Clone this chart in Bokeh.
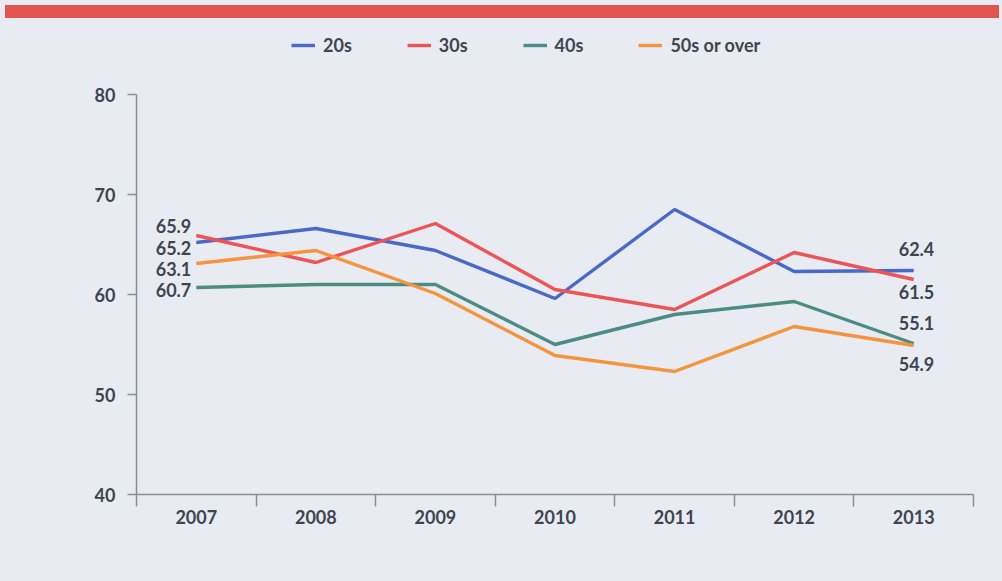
from bokeh.plotting import figure
from bokeh.models import ColumnDataSource, FixedTicker, Legend, LegendItem, Range1d, Div
from bokeh.layouts import column
from bokeh.core.properties import value
from bokeh.embed import file_html
from bokeh.resources import INLINE

# ---- data ----
years = [2007, 2008, 2009, 2010, 2011, 2012, 2013]
s20 = [65.2, 66.6, 64.4, 59.6, 68.5, 62.3, 62.4]
s30 = [65.9, 63.2, 67.1, 60.5, 58.5, 64.2, 61.5]
s40 = [60.7, 61.0, 61.0, 55.0, 58.0, 59.3, 55.1]
s50 = [63.1, 64.4, 60.1, 53.9, 52.3, 56.8, 54.9]
series_names = ["20s", "30s", "40s", "50s or over"]
y_ticks = [40, 50, 60, 70, 80]

# ---- style ----
colors = ["#4a68c6", "#ec5557", "#4c8c85", "#f5943e"]
bg = "#e8ecf2"
txt = "#3e4450"
axis_col = "#8a8d93"
FONT = "Lato"
# label offsets (screen px) for end labels, per series
left_yoff = [5, -10, 2, 5]
right_yoff = [-22, 12, -21, 18]

series = [s20, s30, s40, s50]

# y range extends above 80 to leave room for the legend inside the frame;
# the axis itself is bounded to 40..80
p = figure(width=994, height=563, output_backend="svg", toolbar_location=None,
           x_range=Range1d(2006.5, 2013.5), y_range=Range1d(40, 86.3),
           min_border_left=136, min_border_right=21, min_border_top=8,
           min_border_bottom=92)
p.background_fill_color = bg
p.border_fill_color = bg
p.outline_line_color = None
p.grid.visible = False

renderers = []
for vals, c in zip(series, colors):
    r = p.line(years, vals, line_color=c, line_width=3.4)
    renderers.append(r)

# end labels
lsrc = ColumnDataSource(dict(x=[years[0]] * 4, y=[s[0] for s in series],
                             t=[f"{s[0]:.1f}" for s in series], yo=left_yoff))
p.text(x="x", y="y", text="t", y_offset="yo", source=lsrc, x_offset=-5,
       text_align="right", text_baseline="middle", text_font=value(FONT),
       text_font_style="bold", text_font_size="18px", text_color=txt)
rsrc = ColumnDataSource(dict(x=[years[-1]] * 4, y=[s[-1] for s in series],
                             t=[f"{s[-1]:.1f}" for s in series], yo=right_yoff))
p.text(x="x", y="y", text="t", y_offset="yo", source=rsrc, x_offset=-15,
       text_align="left", text_baseline="middle", text_font=value(FONT),
       text_font_style="bold", text_font_size="18px", text_color=txt)

# axes
xa = p.xaxis[0]
xa.ticker = FixedTicker(ticks=years, minor_ticks=[y - 0.5 for y in years] + [years[-1] + 0.5])
xa.major_tick_out = 0
xa.major_tick_in = 0
xa.minor_tick_out = 12
xa.minor_tick_in = 0
xa.minor_tick_line_color = axis_col
xa.minor_tick_line_width = 1.5
xa.axis_line_color = axis_col
xa.axis_line_width = 1.5
xa.major_label_standoff = 3
xa.major_label_text_font = FONT
xa.major_label_text_font_style = "bold"
xa.major_label_text_font_size = "18px"
xa.major_label_text_color = txt

ya = p.yaxis[0]
ya.ticker = FixedTicker(ticks=y_ticks)
ya.bounds = (y_ticks[0], y_ticks[-1])
ya.major_tick_out = 9
ya.major_tick_in = 0
ya.minor_tick_out = 0
ya.minor_tick_in = 0
ya.major_tick_line_color = axis_col
ya.major_tick_line_width = 1.5
ya.axis_line_color = axis_col
ya.axis_line_width = 1.5
ya.major_label_standoff = 12
ya.major_label_text_font = FONT
ya.major_label_text_font_style = "bold"
ya.major_label_text_font_size = "18px"
ya.major_label_text_color = txt

legend = Legend(items=[LegendItem(label=n, renderers=[r]) for n, r in zip(series_names, renderers)],
                orientation="horizontal", location=(155, 438), padding=0, margin=0,
                spacing=55, glyph_width=24, glyph_height=20, label_standoff=8,
                label_text_font=FONT, label_text_font_style="bold",
                label_text_font_size="18px", label_text_color=txt,
                background_fill_alpha=0, border_line_alpha=0)
p.add_layout(legend, "center")

band = Div(text="", width=994, height=13,
           styles={"background-color": "#e3544f", "width": "994px", "height": "13px"})

layout = column(band, p, spacing=0)
layout.styles = {"background-color": bg}

open("out.html", "w").write(file_html(layout, INLINE))
